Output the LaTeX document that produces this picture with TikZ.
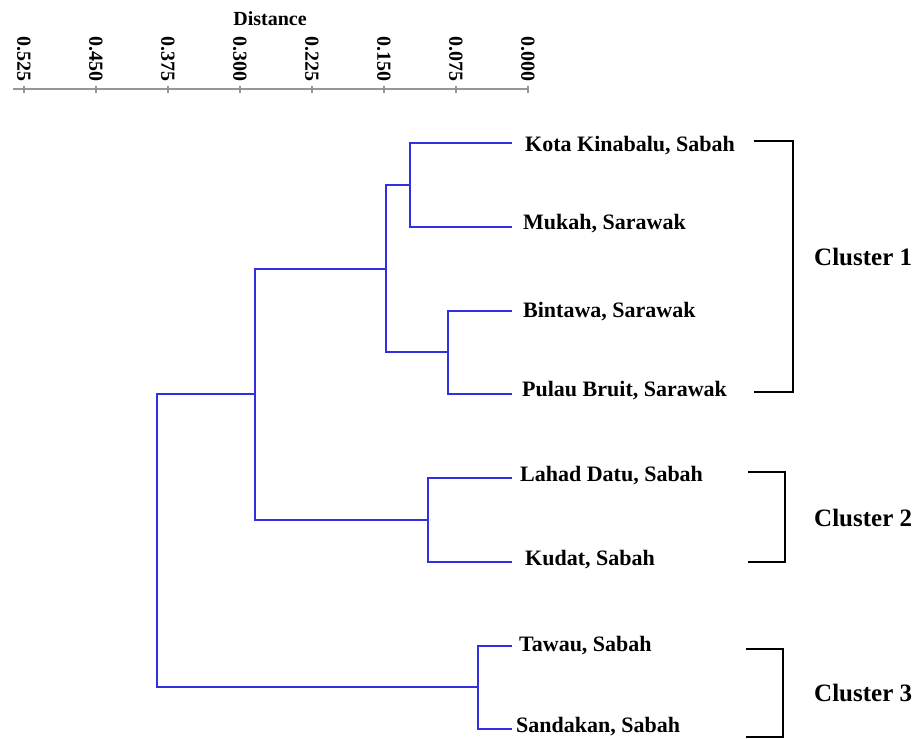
\documentclass[tikz,border=0pt]{standalone}
\usepackage{fontspec}
\setmainfont{Liberation Serif}
\definecolor{dblue}{RGB}{48,48,225}
\definecolor{axgray}{RGB}{150,150,150}
\begin{document}
\begin{tikzpicture}[x=1pt,y=-1pt,
  dend/.style={draw=dblue, line width=2pt},
  brk/.style={draw=black, line width=2pt},
  axisline/.style={draw=axgray, line width=1.8pt},
  leaf/.style={anchor=base west, inner sep=0pt, font=\fontsize{22}{22}\selectfont\bfseries},
  clab/.style={anchor=base west, inner sep=0pt, font=\fontsize{25}{25}\selectfont\bfseries},
  tlab/.style={rotate=-90, anchor=west, inner sep=0pt, font=\fontsize{20}{20}\selectfont\bfseries},
]
\useasboundingbox (0,0) rectangle (919,739);

% axis
\node[anchor=base, inner sep=0pt, font=\fontsize{20}{20}\selectfont\bfseries] (dist) at (270,25) {Distance};
\coordinate (axL) at (12.7,89.3);
\coordinate (axR) at (528,89.3);
\draw[axisline] (axL) -- (axR);
\foreach \xx/\lab/\nm in {24/0.525/t1, 96/0.450/t2, 168/0.375/t3, 240/0.300/t4, 312/0.225/t5, 384/0.150/t6, 456/0.075/t7, 528/0.000/t8}{
  \draw[axisline] (\xx,86) -- (\xx,92.5);
  \node[tlab] (\nm) at (\xx,36) {\lab};
}

% leaf labels
\node[leaf] (kk) at (525,151.7) {Kota Kinabalu, Sabah};
\node[leaf] (mu) at (523,229.3) {Mukah, Sarawak};
\node[leaf] (bi) at (523,317.3) {Bintawa, Sarawak};
\node[leaf] (pb) at (522,396.7) {Pulau Bruit, Sarawak};
\node[leaf] (ld) at (520,481.7) {Lahad Datu, Sabah};
\node[leaf] (ku) at (525,565) {Kudat, Sabah};
\node[leaf] (ta) at (519,651.7) {Tawau, Sabah};
\node[leaf] (sa) at (516,732.7) {Sandakan, Sabah};

% leaf ends
\coordinate (kkE) at (512,142.7);
\coordinate (muE) at (512,226.7);
\coordinate (biE) at (512,310.7);
\coordinate (pbE) at (512,394);
\coordinate (ldE) at (512,478.3);
\coordinate (kuE) at (512,561.7);
\coordinate (taE) at (512,645.7);
\coordinate (saE) at (512,729);

% joins
\coordinate (j1) at (410,184.7);
\coordinate (j2) at (448.3,352.3);
\coordinate (j3) at (386,268.5);
\coordinate (j4) at (427.7,520);
\coordinate (j5) at (255,394.3);
\coordinate (j6) at (477.7,687.3);
\coordinate (j7) at (156.7,540.8);

\draw[dend] (kkE) -| (j1) |- (muE);
\draw[dend] (biE) -| (j2) |- (pbE);
\draw[dend] (j1) -| (j3) |- (j2);
\draw[dend] (ldE) -| (j4) |- (kuE);
\draw[dend] (j3) -| (j5) |- (j4);
\draw[dend] (taE) -| (j6) |- (saE);
\draw[dend] (j5) -| (j7) |- (j6);

% brackets
\coordinate (b1t) at (754,141);
\coordinate (b1b) at (754,392);
\coordinate (b2t) at (748,472.3);
\coordinate (b2b) at (748,561.7);
\coordinate (b3t) at (746,649);
\coordinate (b3b) at (746,736.7);
\draw[brk] (b1t) -- ++(39,0) |- (b1b);
\draw[brk] (b2t) -- ++(37,0) |- (b2b);
\draw[brk] (b3t) -- ++(36.7,0) |- (b3b);

\node[clab] (c1) at (814,265) {Cluster 1};
\node[clab] (c2) at (814,526.7) {Cluster 2};
\node[clab] (c3) at (814,701.7) {Cluster 3};
\end{tikzpicture}
\end{document}
